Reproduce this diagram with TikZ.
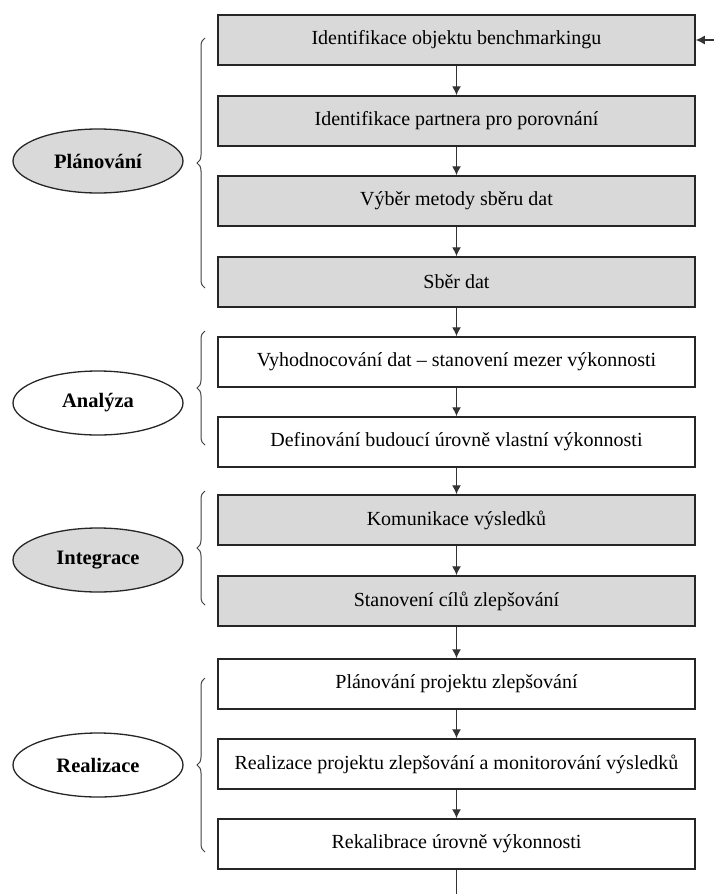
\documentclass[tikz,border=0pt]{standalone}
\usepackage{fontspec}
\setmainfont{Liberation Serif}
\usetikzlibrary{shapes.geometric,arrows.meta,decorations.pathreplacing}
\begin{document}
\begin{tikzpicture}[x=1pt,y=-1pt,
  boxg/.style={draw=black!85,line width=1.5pt,fill=black!15,minimum width=477pt,minimum height=50pt,inner sep=0pt,font=\fontsize{20}{24}\selectfont},
  boxw/.style={boxg,fill=white},
  phaseg/.style={ellipse,draw=black!85,line width=1.3pt,fill=black!15,minimum width=170pt,minimum height=64pt,inner sep=0pt,font=\bfseries\fontsize{20.5}{24}\selectfont},
  phasew/.style={phaseg,fill=white},
  arr/.style={draw=black!80,line width=1.3pt,-{Latex[length=9pt,width=9pt]}},
  brc/.style={draw=black!75,line width=1pt,decorate,decoration={brace,amplitude=8pt,aspect=0.5}}]
\useasboundingbox (0,0) rectangle (714,894);
\node[boxg] (b1) at (456.5,40) {Identifikace objektu benchmarkingu};
\node[boxg] (b2) at (456.5,121) {Identifikace partnera pro porovnání};
\node[boxg] (b3) at (456.5,201) {Výběr metody sběru dat};
\node[boxg] (b4) at (456.5,282) {Sběr dat};
\node[boxw] (b5) at (456.5,362) {Vyhodnocování dat -- stanovení mezer výkonnosti};
\node[boxw] (b6) at (456.5,442) {Definování budoucí úrovně vlastní výkonnosti};
\node[boxg] (b7) at (456.5,520) {Komunikace výsledků};
\node[boxg] (b8) at (456.5,601) {Stanovení cílů zlepšování};
\node[boxw] (b9) at (456.5,684) {Plánování projektu zlepšování};
\node[boxw] (b10) at (456.5,764) {Realizace projektu zlepšování a monitorování výsledků};
\node[boxw] (b11) at (456.5,844) {Rekalibrace úrovně výkonnosti};
\foreach \a/\b in {b1/b2,b2/b3,b3/b4,b4/b5,b5/b6,b6/b7,b7/b8,b8/b9,b9/b10,b10/b11}
  \draw[arr] (\a.south) -- (\b.north);
\coordinate (inR) at (714,40);
\coordinate (outB) at (456.5,894);
\draw[arr] (inR) -- (b1.east);
\draw[draw=black!80,line width=1.3pt] (b11.south) -- (outB);
\node[phaseg] (p1) at (98,161) {Plánování};
\node[phasew] (p2) at (98,403) {Analýza};
\node[phaseg] (p3) at (98,560) {Integrace};
\node[phasew] (p4) at (98,765) {Realizace};
\coordinate (br1a) at (205,288); \coordinate (br1b) at (205,38);
\coordinate (br2a) at (205,445); \coordinate (br2b) at (205,331);
\coordinate (br3a) at (205,605); \coordinate (br3b) at (205,491);
\coordinate (br4a) at (205,852); \coordinate (br4b) at (205,678);
\draw[brc] (br1a) -- (br1b);
\draw[brc] (br2a) -- (br2b);
\draw[brc] (br3a) -- (br3b);
\draw[brc] (br4a) -- (br4b);
\end{tikzpicture}
\end{document}
